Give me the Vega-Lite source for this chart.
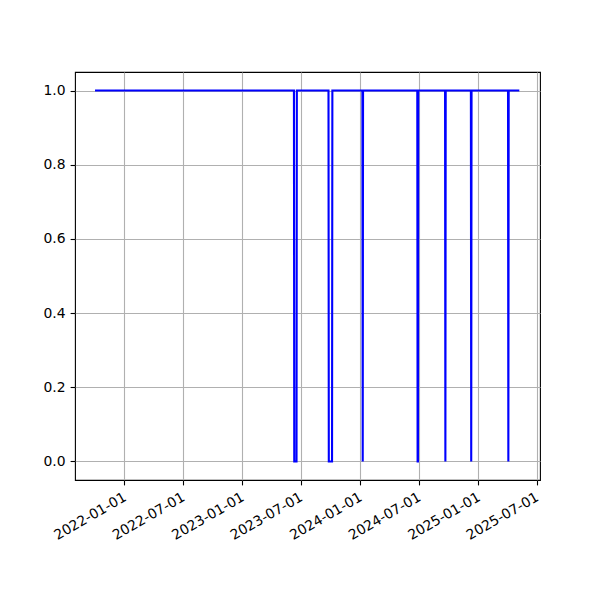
{
  "$schema": "https://vega.github.io/schema/vega-lite/v6.json",
  "width": 465,
  "height": 408,
  "autosize": "none",
  "padding": {"left": 75, "top": 72, "right": 60, "bottom": 120},
  "background": "white",
  "config": {
    "font": "DejaVu Sans",
    "view": {"stroke": "black", "strokeWidth": 1.1},
    "axis": {
      "labelFont": "DejaVu Sans",
      "labelFontSize": 13.9,
      "labelColor": "black",
      "tickColor": "black",
      "tickSize": 4.9,
      "tickWidth": 1.1,
      "domain": false,
      "grid": true,
      "gridColor": "#b0b0b0",
      "gridWidth": 1.1,
      "title": null
    }
  },
  "data": {
    "values": [
      {"date": "2021-10-02", "value": 1},
      {"date": "2023-06-10", "value": 1},
      {"date": "2023-06-11", "value": 0},
      {"date": "2023-06-18", "value": 0},
      {"date": "2023-06-19", "value": 1},
      {"date": "2023-09-25", "value": 1},
      {"date": "2023-09-26", "value": 0},
      {"date": "2023-10-06", "value": 0},
      {"date": "2023-10-07", "value": 1},
      {"date": "2024-01-08", "value": 1},
      {"date": "2024-01-09", "value": 0},
      {"date": "2024-01-10", "value": 1},
      {"date": "2024-06-26", "value": 1},
      {"date": "2024-06-27", "value": 0},
      {"date": "2024-06-28", "value": 0},
      {"date": "2024-06-29", "value": 1},
      {"date": "2024-09-20", "value": 1},
      {"date": "2024-09-21", "value": 0},
      {"date": "2024-09-22", "value": 1},
      {"date": "2024-12-09", "value": 1},
      {"date": "2024-12-10", "value": 0},
      {"date": "2024-12-11", "value": 1},
      {"date": "2025-04-03", "value": 1},
      {"date": "2025-04-04", "value": 0},
      {"date": "2025-04-05", "value": 1},
      {"date": "2025-05-08", "value": 1}
    ]
  },
  "mark": {"type": "line", "color": "#0000ff", "strokeWidth": 2.1, "clip": true},
  "encoding": {
    "x": {
      "field": "date",
      "type": "temporal",
      "scale": {
        "type": "utc",
        "domain": [
          {"year": 2021, "month": 8, "date": 1, "utc": true},
          {"year": 2025, "month": 7, "date": 11, "utc": true}
        ],
        "nice": false
      },
      "axis": {
        "values": [
          {"year": 2022, "month": 1, "date": 1, "utc": true},
          {"year": 2022, "month": 7, "date": 1, "utc": true},
          {"year": 2023, "month": 1, "date": 1, "utc": true},
          {"year": 2023, "month": 7, "date": 1, "utc": true},
          {"year": 2024, "month": 1, "date": 1, "utc": true},
          {"year": 2024, "month": 7, "date": 1, "utc": true},
          {"year": 2025, "month": 1, "date": 1, "utc": true},
          {"year": 2025, "month": 7, "date": 1, "utc": true}
        ],
        "format": "%Y-%m-%d",
        "labelAngle": -30,
        "labelAlign": "right",
        "labelBaseline": "top",
        "labelPadding": 5,
        "labelOffset": -3,
        "labelFlush": false,
        "labelOverlap": false
      }
    },
    "y": {
      "field": "value",
      "type": "quantitative",
      "scale": {"domain": [-0.05, 1.05], "nice": false, "zero": false},
      "axis": {
        "values": [0, 0.2, 0.4, 0.6, 0.8, 1.0],
        "format": ".1f",
        "labelPadding": 5
      }
    }
  }
}
